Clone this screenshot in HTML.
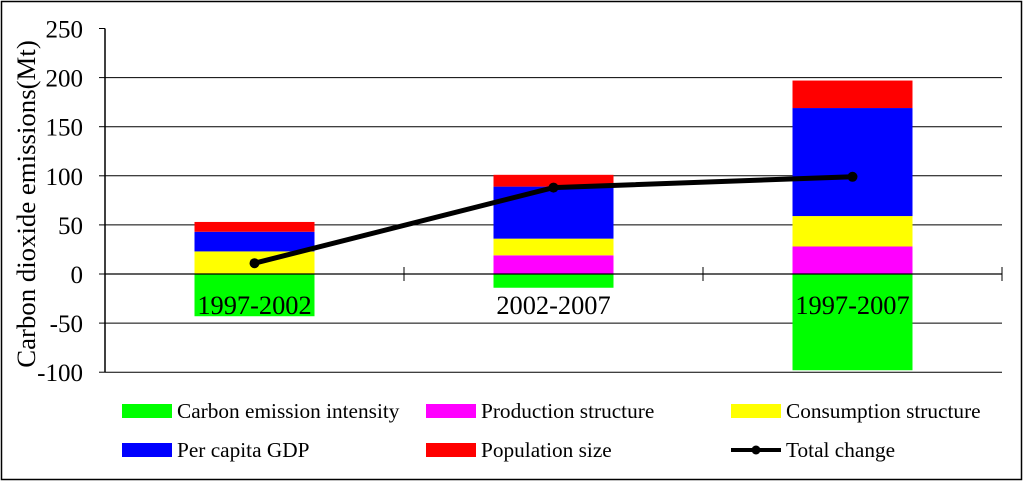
<!DOCTYPE html>
<html><head><meta charset="utf-8"><style>
body{margin:0;background:#fff;}
svg{display:block;font-family:"Liberation Serif",serif;}
</style></head><body>
<svg id="chart" width="1024" height="482">
<rect x="1.5" y="1.5" width="1020" height="478" fill="#fff" stroke="#000" stroke-width="1.5"/>
<g id="grid"></g><g id="bars"></g><g id="axes"></g><g id="line"></g><g id="legend"></g>
<text transform="translate(35,204) rotate(-90)" text-anchor="middle" font-size="26.8">Carbon dioxide emissions(Mt)</text>
</svg>
<script>
const categories=["1997-2002","2002-2007","1997-2007"];
const intensity=[-43,-14,-98];
const production=[0,19,28];
const consumption=[23,17,31];
const gdp=[20,53,110];
const population=[10,12,28];
const total=[11,88,99];
const yTicks=[-100,-50,0,50,100,150,200,250];
const NS="http://www.w3.org/2000/svg";
const x0=105,x1=1002,y0v=274,scale=0.982;
const y=v=>y0v-v*scale;
const catW=(x1-x0)/categories.length;
const cx=i=>x0+catW*(i+0.5);
function mk(tag,attrs,parent){const e=document.createElementNS(NS,tag);for(const k in attrs)e.setAttribute(k,attrs[k]);document.getElementById(parent).appendChild(e);return e;}
yTicks.forEach(t=>{
 if(t!==250&&t!==0){const l=mk('line',{x1:x0,x2:x1,y1:y(t),y2:y(t),stroke:'#000','stroke-width':1},'grid');
 
 }
 const tk=mk('line',{x1:x0-6,x2:x0,y1:y(t),y2:y(t),stroke:'#000'},'axes');
 
 
 const tx=mk('text',{x:x0-22,y:y(t)+9,'text-anchor':'end','font-size':25},'axes');
 tx.textContent=t;
 
 
});
const series=[[intensity,'#00ff00'],[production,'#ff00ff'],[consumption,'#ffff00'],[gdp,'#0000ff'],[population,'#ff0000']];
const names=['bar-intensity','bar-production','bar-consumption','bar-gdp','bar-population'];
categories.forEach((c,i)=>{
 let pos=0;
 series.forEach(([arr,col],s)=>{
  const v=arr[i];let a,b;
  if(v<0){a=0;b=v;}else{a=pos;b=pos+v;pos=b;}
  const r=mk('rect',{x:cx(i)-60,width:120,y:y(Math.max(a,b)),height:Math.abs(b-a)*scale,fill:col},'bars');
  
  
 });
 const t=mk('text',{x:cx(i),y:y(0)+40,'text-anchor':'middle','font-size':26.4},'axes');
 t.textContent=c;
 
 
 const tk=mk('line',{x1:x0+catW*(i+1),x2:x0+catW*(i+1),y1:y(0)-7,y2:y(0)+7,stroke:'#000'},'axes');
 
 
});
let ax=mk('line',{x1:x0,x2:x0,y1:y(250),y2:y(-100),stroke:'#000','stroke-width':1.5},'axes');


ax=mk('line',{x1:x0,x2:x1,y1:y(0),y2:y(0),stroke:'#000','stroke-width':1.2},'axes');


const pl=mk('polyline',{points:total.map((v,i)=>cx(i)+','+y(v)).join(' '),fill:'none',stroke:'#000','stroke-width':5},'line');


total.forEach((v,i)=>{const d=mk('circle',{cx:cx(i),cy:y(v),r:5,fill:'#000'},'line');
 
 });
const legendItems=[['Carbon emission intensity','#00ff00',122,411],['Production structure','#ff00ff',426,411],['Consumption structure','#ffff00',731,411],['Per capita GDP','#0000ff',122,450],['Population size','#ff0000',426,450]];
legendItems.forEach(([n,c,lx,ly])=>{
 const r=mk('rect',{x:lx,y:ly-7,width:50,height:14,fill:c},'legend');
 
 
 const t=mk('text',{x:lx+55,y:ly+7,'font-size':21.3},'legend');
 t.textContent=n;
 
 
});
let l=mk('line',{x1:731,x2:781,y1:450,y2:450,stroke:'#000','stroke-width':4},'legend');


l=mk('circle',{cx:756,cy:450,r:4.5,fill:'#000'},'legend');


l=mk('text',{x:786,y:457,'font-size':21.3},'legend');
l.textContent='Total change';


</script>
</body></html>
